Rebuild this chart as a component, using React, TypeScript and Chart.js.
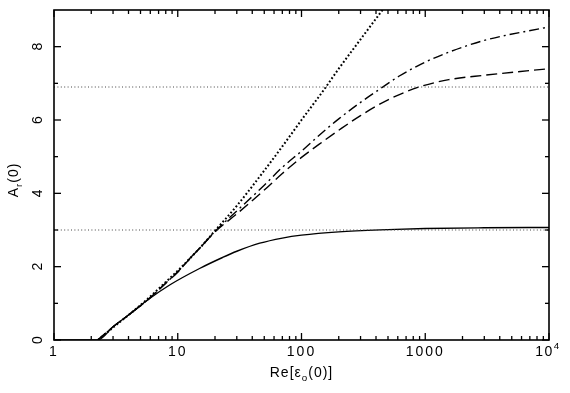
import { useEffect, useRef } from 'react';
import { Chart, registerables } from 'chart.js';

Chart.register(...registerables);

// ---- data ----
const solidX = [1, 2.26, 3, 4, 5.7, 8.6, 15, 23, 30, 46, 70, 100, 200, 500, 1000, 3000, 10000];
const solidY = [0, 0, 0.36, 0.68, 1.09, 1.5, 1.95, 2.25, 2.42, 2.64, 2.78, 2.86, 2.95, 3.01, 3.04, 3.06, 3.07];

const dashX = [2.26, 3, 4, 5.7, 8, 10, 12, 15, 20, 30, 50, 70, 100, 150, 200, 300, 500, 891, 1550, 3000, 10000];
const dashY = [0, 0.36, 0.68, 1.09, 1.55, 1.85, 2.15, 2.5, 2.95, 3.44, 4.09, 4.54, 4.98, 5.42, 5.72, 6.12, 6.55, 6.9, 7.1, 7.22, 7.4];

const dashDotX = [2.26, 3, 4, 5.7, 8, 10, 12, 15, 20, 30, 50, 70, 100, 150, 200, 300, 403, 617, 1000, 1550, 3000, 10000];
const dashDotY = [0, 0.36, 0.68, 1.09, 1.55, 1.86, 2.16, 2.5, 2.96, 3.52, 4.22, 4.71, 5.15, 5.68, 6.03, 6.48, 6.78, 7.2, 7.58, 7.85, 8.17, 8.54];

const dottedX = [2.26, 3, 4, 5.7, 8, 10, 15, 20, 30, 50, 70, 100, 150, 200, 300, 475];
const dottedY = [0, 0.34, 0.68, 1.12, 1.58, 1.89, 2.5, 2.98, 3.66, 4.62, 5.28, 6.0, 6.8, 7.4, 8.2, 9.1];

const levelY = [3.0, 6.9];

const xMajor = [1, 10, 100, 1000, 10000];
const xMajorLabels = ['1', '10', '100', '1000', '10^4'];
const yMajor = [0, 2, 4, 6, 8];
const yMinor = [1, 3, 5, 7];

const pts = (xs: number[], ys: number[]) => xs.map((x, i) => ({ x, y: ys[i] }));

const FONT = '"Liberation Sans", Arial, sans-serif';

type Part = { t: string; sub?: boolean; sup?: boolean };

function drawParts(ctx: CanvasRenderingContext2D, parts: Part[], cx: number, cy: number, size: number, spacing: number) {
  const widths = parts.map((p) => {
    const s = p.sub || p.sup ? size * 0.7 : size;
    ctx.font = `${s}px ${FONT}`;
    (ctx as any).letterSpacing = `${spacing}px`;
    return ctx.measureText(p.t).width;
  });
  const total = widths.reduce((a, b) => a + b, 0);
  let x = cx - total / 2;
  ctx.textBaseline = 'middle';
  ctx.textAlign = 'left';
  parts.forEach((p, i) => {
    const s = p.sub || p.sup ? size * 0.7 : size;
    ctx.font = `${s}px ${FONT}`;
    (ctx as any).letterSpacing = `${spacing}px`;
    let dy = 0;
    if (p.sub) dy = size * 0.35;
    if (p.sup) dy = -size * 0.4;
    ctx.fillText(p.t, x, cy + dy);
    x += widths[i];
  });
}

const framePlugin = {
  id: 'frame',
  afterDraw(chart: any) {
    const ctx: CanvasRenderingContext2D = chart.ctx;
    const xs = chart.scales.x;
    const ys = chart.scales.y;
    const { left, right, top, bottom } = chart.chartArea;
    ctx.save();
    ctx.strokeStyle = '#000';
    ctx.fillStyle = '#000';
    ctx.lineWidth = 1.6;
    ctx.strokeRect(left, top, right - left, bottom - top);

    ctx.lineWidth = 1.3;
    const line = (x1: number, y1: number, x2: number, y2: number) => {
      ctx.beginPath();
      ctx.moveTo(x1, y1);
      ctx.lineTo(x2, y2);
      ctx.stroke();
    };
    // x ticks (bottom and top, inward)
    for (let d = 1; d <= 10000; d *= 10) {
      for (let m = 1; m <= 9; m++) {
        const v = d * m;
        if (v > 10000) break;
        const px = xs.getPixelForValue(v);
        const len = m === 1 ? 7 : 4;
        line(px, bottom, px, bottom - len);
        line(px, top, px, top + len);
      }
    }
    // y ticks (left and right, inward)
    yMajor.forEach((v) => {
      const py = ys.getPixelForValue(v);
      line(left, py, left + 7, py);
      line(right, py, right - 7, py);
    });
    yMinor.forEach((v) => {
      const py = ys.getPixelForValue(v);
      line(left, py, left + 4, py);
      line(right, py, right - 4, py);
    });

    // x tick labels
    xMajor.forEach((v, i) => {
      const px = xs.getPixelForValue(v);
      const lab = xMajorLabels[i];
      if (lab.includes('^')) {
        const [b, e] = lab.split('^');
        drawParts(ctx, [{ t: b }, { t: e, sup: true }], px - 1, bottom + 12, 14, 1.5);
      } else {
        drawParts(ctx, [{ t: lab }], px, bottom + 12, 14, 2);
      }
    });
    // y tick labels (rotated)
    yMajor.forEach((v) => {
      const py = ys.getPixelForValue(v);
      ctx.save();
      ctx.translate(left - 16, py);
      ctx.rotate(-Math.PI / 2);
      drawParts(ctx, [{ t: String(v) }], 0, 0, 14, 0);
      ctx.restore();
    });
    // axis titles
    drawParts(ctx, [{ t: 'Re[ε' }, { t: 'o', sub: true }, { t: '(0)]' }], (left + right) / 2, bottom + 33, 14, 1);
    ctx.save();
    ctx.translate(14, 180);
    ctx.rotate(-Math.PI / 2);
    drawParts(ctx, [{ t: 'A' }, { t: 'r', sub: true }, { t: '(0)' }], 0, 0, 14, 1);
    ctx.restore();
    ctx.restore();
  },
};

export default function App() {
  const ref = useRef<HTMLCanvasElement>(null);
  useEffect(() => {
    document.body.style.margin = '0';
    const canvas = ref.current!;
    const common = { pointRadius: 0, borderColor: '#000', fill: false, cubicInterpolationMode: 'monotone' as const };
    const chart = new Chart(canvas, {
      type: 'line',
      data: {
        datasets: [
          ...levelY.map((v) => ({
            ...common,
            data: [{ x: 1, y: v }, { x: 10000, y: v }],
            borderWidth: 1,
            borderColor: '#444',
            borderDash: [1, 2.4],
          })),
          { ...common, data: pts(dottedX, dottedY), borderWidth: 2, borderDash: [1.8, 2.2] },
          { ...common, data: pts(dashDotX, dashDotY), borderWidth: 1.4, borderDash: [10, 4, 2, 4] },
          { ...common, data: pts(dashX, dashY), borderWidth: 1.4, borderDash: [11, 5] },
          { ...common, data: pts(solidX, solidY), borderWidth: 1.4 },
        ],
      },
      options: {
        responsive: false,
        animation: false,
        layout: { padding: { left: 54, right: 21, top: 10, bottom: 53 } },
        scales: {
          x: { type: 'logarithmic', min: 1, max: 10000, display: false },
          y: { type: 'linear', min: 0, max: 9, display: false },
        },
        plugins: { legend: { display: false }, tooltip: { enabled: false } },
        elements: { point: { radius: 0 } },
      },
      plugins: [framePlugin],
    });
    return () => chart.destroy();
  }, []);
  return <canvas ref={ref} width={570} height={393} style={{ display: 'block' }} />;
}
